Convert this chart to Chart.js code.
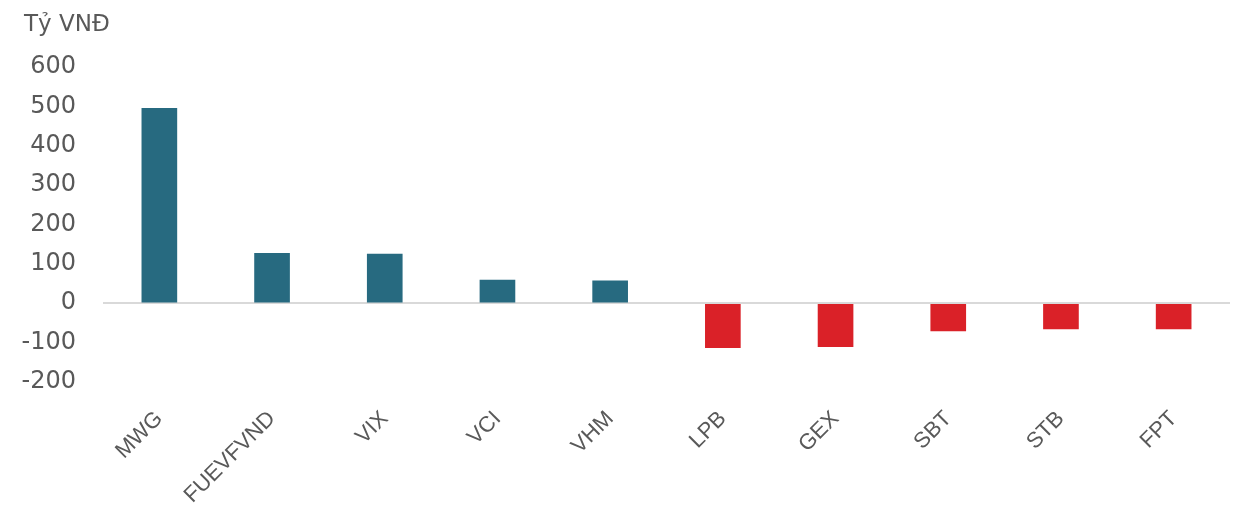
<!DOCTYPE html>
<html>
<head>
<meta charset="utf-8">
<script src="https://cdn.jsdelivr.net/npm/chart.js@4.4.1/dist/chart.umd.min.js"></script>
<style>
    html, body { margin: 0; padding: 0; background: #ffffff; }
    #wrap { position: relative; width: 1260px; height: 515px; }
    #unit {
        position: absolute; left: 24px; top: 10px;
        font-family: "DejaVu Sans", sans-serif; font-size: 23px; color: #595959;
    }
</style>
</head>
<body>
<div id="wrap">
    <div id="unit">Tỷ VNĐ</div>
    <canvas id="chart" width="1260" height="515"></canvas>
</div>
<script>
// Giá trị mua/bán ròng (tỷ VNĐ)
const categories = ['MWG', 'FUEVFVND', 'VIX', 'VCI', 'VHM', 'LPB', 'GEX', 'SBT', 'STB', 'FPT'];
const netValues = [495, 127, 125, 59, 57, -113, -110, -70, -65, -65];
const yTicks = [600, 500, 400, 300, 200, 100, 0, -100, -200];

const positiveColor = '#276A80';
const negativeColor = '#DA2128';

const ctx = document.getElementById('chart').getContext('2d');

new Chart(ctx, {
    type: 'bar',
    data: {
        labels: categories,
        datasets: [{
            data: netValues,
            backgroundColor: netValues.map(v => v >= 0 ? positiveColor : negativeColor),
            barThickness: 35
        }]
    },
    options: {
        responsive: false,
        animation: false,
        layout: {
            padding: { top: 67, right: 30, bottom: 0, left: 0 }
        },
        plugins: {
            legend: { display: false },
            tooltip: { enabled: false }
        },
        scales: {
            x: {
                grid: { display: false },
                border: { display: false },
                ticks: {
                    color: '#595959',
                    font: { family: '"Liberation Sans", Arial, sans-serif', size: 22 },
                    maxRotation: 45,
                    minRotation: 45,
                    padding: 16,
                    autoSkip: false
                },
                afterFit: scale => { scale.height = 133; }
            },
            y: {
                min: -200,
                max: 600,
                afterBuildTicks: scale => {
                    scale.ticks = yTicks.map(v => ({ value: v }));
                },
                grid: {
                    drawTicks: false,
                    color: c => c.tick && c.tick.value === 0 ? '#D9D9D9' : 'rgba(0,0,0,0)',
                    lineWidth: c => c.tick && c.tick.value === 0 ? 2 : 0
                },
                border: { display: false },
                ticks: {
                    color: '#595959',
                    font: { family: '"DejaVu Sans", sans-serif', size: 24 },
                    padding: 27
                },
                afterFit: scale => { scale.width = 103; }
            }
        }
    }
});
</script>
</body>
</html>
